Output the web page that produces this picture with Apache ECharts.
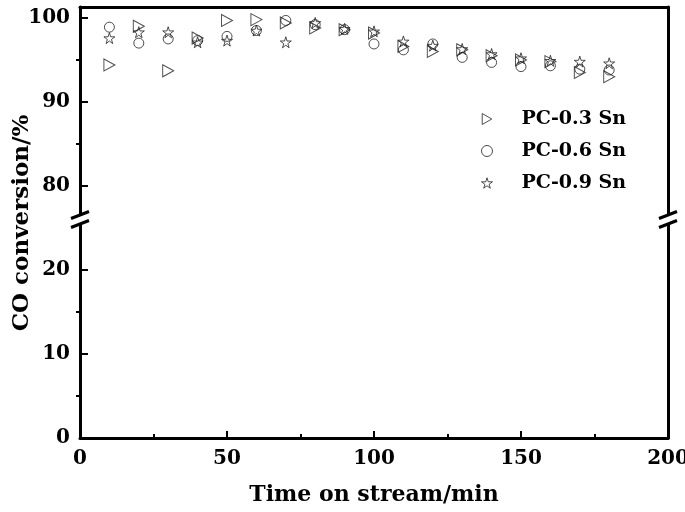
<!DOCTYPE html>
<html>
<head>
<meta charset="utf-8">
<script src="https://cdn.jsdelivr.net/npm/echarts@6/dist/echarts.min.js"></script>
<style>
  html, body { margin: 0; padding: 0; background: #fff; }
  #main { width: 685px; height: 512px; }
</style>
</head>
<body>
<div id="main"></div>
<script>
// data
var times = [10, 20, 30, 40, 50, 60, 70, 80, 90, 100, 110, 120, 130, 140, 150, 160, 170, 180];
var pc03 = [94.4, 99.0, 93.7, 97.6, 99.7, 99.8, 99.4, 98.8, 98.6, 98.2, 96.6, 96.0, 96.2, 95.5, 95.0, 94.8, 93.5, 93.0];
var pc06 = [98.9, 97.0, 97.5, 97.3, 97.8, 98.5, 99.7, 99.2, 98.6, 96.9, 96.2, 96.9, 95.3, 94.7, 94.2, 94.3, 93.9, 93.8];
var pc09 = [97.6, 98.3, 98.3, 97.1, 97.3, 98.5, 97.1, 99.4, 98.7, 98.4, 97.2, 96.7, 96.3, 95.7, 95.2, 94.9, 94.8, 94.6];
var seriesNames = ["PC-0.3 Sn", "PC-0.6 Sn", "PC-0.9 Sn"];
var upperTicks = [80, 90, 100];
var upperMinor = [85, 95];
var lowerTicks = [0, 10, 20];
var lowerMinor = [5, 15];
var xTitle = "Time on stream/min";
var yTitle = "CO conversion/%";

var FONT = "DejaVu Serif";
var LEFT = 80, RIGHT = 17, TOP = 7, BREAK_Y = 219.5, BOTTOM_Y = 438;

var myChart = echarts.init(document.getElementById("main"));

function pairs(vals) {
  return times.map(function(t, i) { return [t, vals[i]]; });
}

var lineStyle = { color: "#000", width: 3 };
var triPath = "path://M0,0 L87,50 L0,100 Z";
var starPath = "path://M50,0 L61,35 L98,35 L68,57 L79,91 L50,70 L21,91 L32,57 L2,35 L39,35 Z";
var hollow = { color: "rgba(0,0,0,0)", borderColor: "#222", borderWidth: 1 };

function yAx(grid, min, max, opts) {
  var base = {
    type: "value",
    gridIndex: grid,
    min: min,
    max: max,
    splitLine: { show: false },
    axisLine: { show: false },
    axisTick: { show: false },
    axisLabel: { show: false }
  };
  return Object.assign(base, opts);
}

var labelStyle = { fontFamily: FONT, fontWeight: "bold", fontSize: 20, color: "#000" };

var option = {
  animation: false,
  backgroundColor: "#fff",
  grid: [
    { left: LEFT, right: RIGHT, top: TOP, height: BREAK_Y - TOP, outerBoundsMode: "none", containLabel: false },
    { left: LEFT, right: RIGHT, top: BREAK_Y, height: BOTTOM_Y - BREAK_Y, outerBoundsMode: "none", containLabel: false }
  ],
  legend: {
    orient: "vertical",
    left: 476,
    top: 103,
    itemWidth: 11,
    itemHeight: 11,
    itemGap: 10,
    data: seriesNames,
    itemStyle: { borderWidth: 1, borderColor: "#222", color: "rgba(0,0,0,0)" },
    textStyle: { fontFamily: FONT, fontWeight: "bold", fontSize: 19, color: "#000", padding: [0, 0, 0, 24], lineHeight: 22 }
  },
  xAxis: [
    {
      type: "value", gridIndex: 0, min: 0, max: 200, position: "top",
      axisLine: { show: true, onZero: false, lineStyle: lineStyle },
      axisTick: { show: false }, axisLabel: { show: false }, splitLine: { show: false }
    },
    {
      type: "value", gridIndex: 1, min: 0, max: 200, interval: 50, position: "bottom",
      axisLine: { show: true, onZero: false, lineStyle: lineStyle },
      axisTick: { show: true, inside: true, length: 7, lineStyle: { color: "#000", width: 2 } },
      minorTick: { show: true, splitNumber: 2, length: 4, lineStyle: { color: "#000", width: 2 } },
      axisLabel: Object.assign({ margin: 11 }, labelStyle),
      splitLine: { show: false },
      name: xTitle,
      nameLocation: "middle",
      nameGap: 46,
      nameTextStyle: { fontFamily: FONT, fontWeight: "bold", fontSize: 22, color: "#000" }
    }
  ],
  yAxis: [
    yAx(0, 76, 101.3, {
      axisLine: { show: true, onZero: false, lineStyle: lineStyle },
      axisTick: { show: true, inside: true, length: 8, customValues: upperTicks, lineStyle: { color: "#000", width: 2 } },
      axisLabel: Object.assign({ show: true, margin: 10, customValues: upperTicks }, labelStyle)
    }),
    yAx(0, 76, 101.3, {
      axisTick: { show: true, inside: true, length: 4, customValues: upperMinor, lineStyle: { color: "#000", width: 2 } }
    }),
    yAx(0, 76, 101.3, {
      position: "right",
      axisLine: { show: true, onZero: false, lineStyle: lineStyle }
    }),
    yAx(1, 0, 26, {
      axisLine: { show: true, onZero: false, lineStyle: lineStyle },
      axisTick: { show: true, inside: true, length: 8, customValues: lowerTicks, lineStyle: { color: "#000", width: 2 } },
      axisLabel: Object.assign({ show: true, margin: 10, customValues: lowerTicks }, labelStyle)
    }),
    yAx(1, 0, 26, {
      axisTick: { show: true, inside: true, length: 4, customValues: lowerMinor, lineStyle: { color: "#000", width: 2 } }
    }),
    yAx(1, 0, 26, {
      position: "right",
      axisLine: { show: true, onZero: false, lineStyle: lineStyle }
    })
  ],
  series: [
    { name: seriesNames[0], type: "scatter", xAxisIndex: 0, yAxisIndex: 0, symbol: triPath, symbolSize: [11, 12], itemStyle: hollow, data: pairs(pc03) },
    { name: seriesNames[1], type: "scatter", xAxisIndex: 0, yAxisIndex: 0, symbol: "circle", symbolSize: 10, itemStyle: hollow, data: pairs(pc06) },
    { name: seriesNames[2], type: "scatter", xAxisIndex: 0, yAxisIndex: 0, symbol: starPath, symbolSize: 11, itemStyle: hollow, data: pairs(pc09) }
  ]
};

// axis break marks (decoration) on both vertical axes
function breakMarks(x) {
  return [
    { type: "rect", shape: { x: x - 2, y: BREAK_Y - 4, width: 4, height: 8 }, style: { fill: "#fff" }, z: 100 },
    { type: "line", shape: { x1: x - 9, y1: BREAK_Y - 1, x2: x + 9, y2: BREAK_Y - 8 }, style: { stroke: "#000", lineWidth: 3 }, z: 101 },
    { type: "line", shape: { x1: x - 9, y1: BREAK_Y + 8, x2: x + 9, y2: BREAK_Y + 1 }, style: { stroke: "#000", lineWidth: 3 }, z: 101 }
  ];
}
var graphics = breakMarks(LEFT).concat(breakMarks(685 - RIGHT));
graphics.push({
  type: "text",
  x: 22, y: 223,
  rotation: Math.PI / 2,
  style: { text: yTitle, fontFamily: FONT, fontWeight: "bold", fontSize: 23, fill: "#000", align: "center", verticalAlign: "middle" },
  z: 100
});
option.graphic = graphics;

myChart.setOption(option);
</script>
</body>
</html>
